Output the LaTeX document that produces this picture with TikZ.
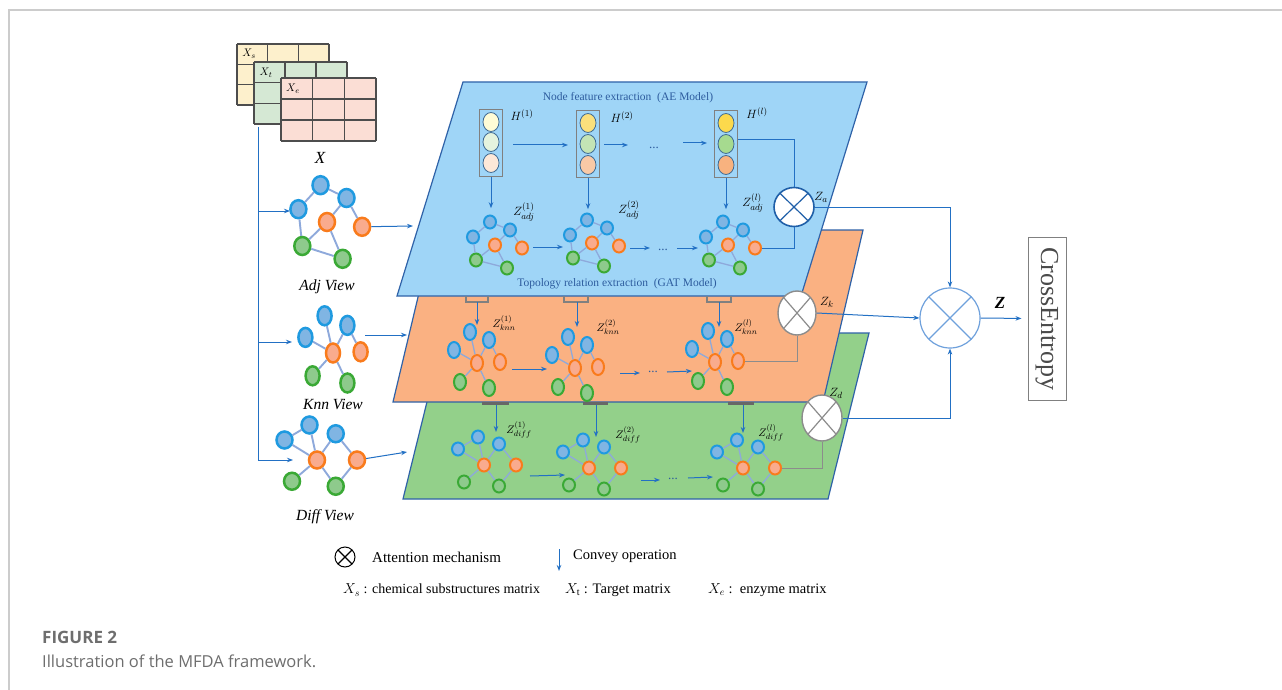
\documentclass[tikz,border=0pt]{standalone}
\usepackage{fontspec}
\setmainfont{Liberation Serif}
\newfontfamily\capfont{Open Sans}
\usetikzlibrary{arrows.meta,shapes.geometric}
\definecolor{framec}{HTML}{CCCCCC}
\definecolor{matline}{HTML}{4D4D4D}
\definecolor{mys}{HTML}{FDF0CC}
\definecolor{myt}{HTML}{D5E8D4}
\definecolor{mye}{HTML}{FBDED5}
\definecolor{arrc}{HTML}{2270C4}
\definecolor{bnd}{HTML}{1F9AE0}
\definecolor{bnf}{HTML}{80B5E3}
\definecolor{ond}{HTML}{F97B1C}
\definecolor{onf}{HTML}{F9AB8D}
\definecolor{gnd}{HTML}{3AA935}
\definecolor{gnf}{HTML}{8ECA8C}
\definecolor{edgec}{HTML}{8EA9DB}
\definecolor{planeb}{HTML}{9FD5F7}
\definecolor{planeo}{HTML}{FAB182}
\definecolor{planeg}{HTML}{93D08A}
\definecolor{planed}{HTML}{2F62A8}
\definecolor{titlec}{HTML}{2D5C9E}
\definecolor{hboxc}{HTML}{808080}
\definecolor{attg}{HTML}{8C8C8C}
\definecolor{zablue}{HTML}{1F5FA8}
\definecolor{bigc}{HTML}{6FA1DC}
\definecolor{cetext}{HTML}{4A4A4A}
\definecolor{capc}{HTML}{6E6E6E}
\definecolor{hy1}{HTML}{FEFCD6}\definecolor{hg1}{HTML}{E4F3DE}\definecolor{hp1}{HTML}{FDE8D8}
\definecolor{hy2}{HTML}{FBE07C}\definecolor{hg2}{HTML}{C4E4B5}\definecolor{hp2}{HTML}{F9C9A6}
\definecolor{hy3}{HTML}{FCD94C}\definecolor{hg3}{HTML}{A6DA8F}\definecolor{hp3}{HTML}{F8B27F}
\definecolor{hcd}{HTML}{3F6A93}

\def\gw{12pt}\def\gh{13pt}\def\glw{2pt}\def\gelw{1.3pt}
\tikzset{
  gsize/.code args={#1/#2/#3/#4}{\def\gw{#1pt}\def\gh{#2pt}\def\glw{#3pt}\def\gelw{#4pt}},
  gnode/.style={ellipse, inner sep=0pt, minimum width=\gw, minimum height=\gh, line width=\glw},
  bn/.style={gnode, draw=bnd, fill=bnf},
  on/.style={gnode, draw=ond, fill=onf},
  gn/.style={gnode, draw=gnd, fill=gnf},
  gedge/.style={draw=edgec, line width=\gelw},
  arr/.style={draw=arrc, line width=1pt, -{Stealth[length=6pt,width=4.5pt]}},
  conn/.style={draw=arrc, line width=1pt},
  gconn/.style={draw=attg, line width=1pt},
  plane/.style={draw=planed, line width=1.2pt},
  hbox/.style={draw=hboxc, line width=1.4pt, minimum width=23pt, minimum height=67pt, inner sep=0pt},
  hc/.style={ellipse, draw=hcd, line width=0.8pt, minimum width=16pt, minimum height=19pt, inner sep=0pt},
  attn/.style={ellipse, draw=#1, fill=white, inner sep=0pt,
     path picture={\draw[#1, line width=1.2pt]
       (path picture bounding box.north west) -- (path picture bounding box.south east)
       (path picture bounding box.north east) -- (path picture bounding box.south west);}},
  lab/.style={font=\fontsize{12.5}{14}\selectfont, inner sep=0pt},
  slab/.style={font=\fontsize{11}{13}\selectfont, inner sep=0pt},
  dots/.style={font=\fontsize{13}{14}\selectfont, inner sep=0pt, text=titlec},
  vlab/.style={font=\itshape\fontsize{15.5}{18}\selectfont, inner sep=0pt},
  leg/.style={font=\fontsize{15}{18}\selectfont, inner sep=0pt, anchor=west},
  pics/adjg/.style={code={
    \node[bn] (-t) at (-5,-23) {};
    \node[bn] (-r) at (15,-15) {};
    \node[bn] (-l) at (-22,-8) {};
    \node[on] (-c) at (0,0) {};
    \node[on] (-o) at (27,3) {};
    \node[gn] (-g) at (-19,15) {};
    \node[gn] (-b) at (12,23) {};
    \draw[gedge] (-l)--(-t) (-t)--(-r) (-r)--(-c) (-r)--(-o) (-l)--(-g) (-c)--(-g) (-c)--(-b) (-g)--(-b);
  }},
  pics/knng/.style={code={
    \node[bn] (-t) at (-7,-31) {};
    \node[bn] (-r) at (12,-23) {};
    \node[bn] (-l) at (-23,-13) {};
    \node[on] (-c) at (0,0) {};
    \node[on] (-o) at (23,-1) {};
    \node[gn] (-g) at (-17,19) {};
    \node[gn] (-b) at (12,25) {};
    \draw[gedge] (-c)--(-t) (-c)--(-r) (-c)--(-l) (-c)--(-g) (-c)--(-b) (-r)--(-o);
  }},
  pics/diffg/.style={code={
    \node[bn] (-t) at (-6,-28) {};
    \node[bn] (-r) at (15,-21) {};
    \node[bn] (-l) at (-26,-16) {};
    \node[on] (-c) at (0,0) {};
    \node[on] (-o) at (32,0) {};
    \node[gn] (-g) at (-20,17) {};
    \node[gn] (-b) at (15,21) {};
    \draw[gedge] (-l)--(-t) (-l)--(-c) (-t)--(-c) (-r)--(-c) (-r)--(-o) (-c)--(-g) (-c)--(-b) (-o)--(-b);
  }}
}
\newcommand\mygrid[5]{%
  \fill[#5] (#1,#2) rectangle (#3,#4);
  \foreach \k in {0,1,2,3}{%
    \draw[matline,line width=1.1pt] ({#1+(#3-#1)*\k/3},#2) -- ({#1+(#3-#1)*\k/3},#4);
    \draw[matline,line width=1.1pt] (#1,{#2+(#4-#2)*\k/3}) -- (#3,{#2+(#4-#2)*\k/3});
  }}

\begin{document}
\begin{tikzpicture}[x=1pt,y=-1pt]
\useasboundingbox (0,0) rectangle (1282,690);
\fill[white] (0,0) rectangle (1282,690);
\draw[framec, line width=2pt] (9,690) -- (9,10) -- (1282,10);

% ---------- matrices ----------
\mygrid{237}{44}{329}{105}{mys}
\mygrid{254}{62}{347}{124}{myt}
\mygrid{281}{78}{376}{141}{mye}
\node[slab] (mxs) at (249,54) {$X_s$};
\node[slab] (mxt) at (266,73) {$X_t$};
\node[slab] (mxe) at (293,89) {$X_e$};
\node[vlab, font=\itshape\fontsize{17}{19}\selectfont] (mX) at (320,158) {X};

% ---------- left views ----------
\pic[gsize=16/18/2.5/1.9, xscale=1.3, yscale=1.6] (A) at (327,222) {adjg};
\pic[gsize=14/19/2.5/1.9, scale=1.2] (K) at (333,353) {knng};
\pic[gsize=16/17/2.5/1.9, scale=1.25] (D) at (317,460) {diffg};
\node[vlab] (lA) at (327,287) {Adj View};
\node[vlab] (lK) at (333,404) {Knn View};
\node[vlab] (lD) at (325,517) {Diff View};

\coordinate (xa) at (258,127);
\coordinate (v1) at (258,211);
\coordinate (v2) at (258,342);
\coordinate (v3) at (258,460);
\coordinate (e1) at (290,211);
\coordinate (e2) at (292,342);
\coordinate (e3) at (293,460);
\draw[conn] (xa) -- (v3);
\draw[arr] (v1) -- (e1);
\draw[arr] (v2) -- (e2);
\draw[arr] (v3) -- (e3);

% ---------- green plane ----------
\filldraw[plane, fill=planeg] (444,333) -- (869,333) -- (828,499) -- (403,499) -- cycle;
\pic[gsize=12/13/2/1.3] (d1) at (484,465) {diffg};
\pic[gsize=12/13/2/1.3] (d2) at (589,468) {diffg};
\pic[gsize=12/13/2/1.3] (d3) at (743,468) {diffg};
\coordinate (ga1) at (530,476); \coordinate (ga2) at (565,475);
\coordinate (ga3) at (641,480); \coordinate (ga4) at (660,480);
\coordinate (ga5) at (688,478); \coordinate (ga6) at (713,477);
\draw[arr] (ga1) -- (ga2);
\draw[arr] (ga3) -- (ga4);
\node[dots] (dG) at (673,479) {...};
\draw[arr] (ga5) -- (ga6);
\node[slab] (zd1) at (519,430) {$Z^{(1)}_{diff}$};
\node[slab] (zd2) at (628,435) {$Z^{(2)}_{diff}$};
\node[slab] (zd3) at (771,433) {$Z^{(l)}_{diff}$};

% ---------- orange plane ----------
\filldraw[plane, fill=planeo] (434,230) -- (863,230) -- (823,402) -- (393,402) -- cycle;
\pic[gsize=12/16/2/1.3] (k1) at (477,363) {knng};
\pic[gsize=12/16/2/1.3] (k2) at (575,368) {knng};
\pic[gsize=12/16/2/1.3] (k3) at (715,362) {knng};
\coordinate (ka1) at (512,369); \coordinate (ka2) at (547,369);
\coordinate (ka3) at (620,373); \coordinate (ka4) at (640,373);
\coordinate (ka5) at (667,372); \coordinate (ka6) at (692,371);
\draw[arr] (ka1) -- (ka2);
\draw[arr] (ka3) -- (ka4);
\node[dots] (dK) at (653,372) {...};
\draw[arr] (ka5) -- (ka6);
\node[slab] (zk1) at (504,323) {$Z^{(1)}_{knn}$};
\node[slab] (zk2) at (608,327) {$Z^{(2)}_{knn}$};
\node[slab] (zk3) at (746,327) {$Z^{(l)}_{knn}$};
% brackets under orange plane
\fill[hboxc!80!black] (482,402) rectangle (509,405);
\fill[hboxc!80!black] (583,402) rectangle (608,405);
\fill[hboxc!80!black] (728,402) rectangle (754,405);
\coordinate (ob1) at (496,405); \coordinate (ob2) at (596,405); \coordinate (ob3) at (743,405);
\draw[arr] (ob1) -- ++(0,27);
\draw[arr] (ob2) -- ++(0,32);
\draw[arr] (ob3) -- ++(0,28);

% ---------- blue plane ----------
\filldraw[plane, fill=planeb] (463,82) -- (867,82) -- (801,296) -- (397,296) -- cycle;
\node[font=\fontsize{11.5}{13}\selectfont, text=titlec] (t1) at (628,98) {Node feature extraction\ \ (AE Model)};
\node[font=\fontsize{11.5}{13}\selectfont, text=titlec] (t2) at (617,284) {Topology relation extraction\ \ (GAT Model)};
\node[hbox] (h1) at (491,143) {};
\node[hbox] (h2) at (588,144) {};
\node[hbox] (h3) at (726,144) {};
\node[hc, fill=hy1] (h1a) at (491,122) {};
\node[hc, fill=hg1] (h1b) at (491,142) {};
\node[hc, fill=hp1] (h1c) at (491,163) {};
\node[hc, fill=hy2] (h2a) at (588,123) {};
\node[hc, fill=hg2] (h2b) at (588,144) {};
\node[hc, fill=hp2] (h2c) at (588,165) {};
\node[hc, fill=hy3] (h3a) at (726,123) {};
\node[hc, fill=hg3] (h3b) at (726,144) {};
\node[hc, fill=hp3] (h3c) at (726,165) {};
\node[lab] (lh1) at (522,115) {$H^{(1)}$};
\node[lab] (lh2) at (622,117) {$H^{(2)}$};
\node[lab] (lh3) at (757,113) {$H^{(l)}$};
\coordinate (ha1) at (513,145); \coordinate (ha2) at (568,145);
\coordinate (ha3) at (604,145); \coordinate (ha4) at (628,145);
\coordinate (ha5) at (683,143); \coordinate (ha6) at (707,143);
\draw[arr] (ha1) -- (ha2);
\draw[arr] (ha3) -- (ha4);
\node[dots] (dH) at (654,148) {...};
\draw[arr] (ha5) -- (ha6);
\draw[arr] (h1.south) -- ++(0,31);
\draw[arr] (h2.south) -- ++(0,31);
\draw[arr] (h3.south) -- ++(0,31);
\pic[gsize=12/13/2/1.3] (a1) at (495,245) {adjg};
\pic[gsize=12/13/2/1.3] (a2) at (592,243) {adjg};
\pic[gsize=12/13/2/1.3] (a3) at (728,245) {adjg};
\coordinate (ba1) at (533,247); \coordinate (ba2) at (563,247);
\coordinate (ba3) at (630,248); \coordinate (ba4) at (650,248);
\coordinate (ba5) at (677,248); \coordinate (ba6) at (698,248);
\draw[arr] (ba1) -- (ba2);
\draw[arr] (ba3) -- (ba4);
\node[dots] (dB) at (663,250) {...};
\draw[arr] (ba5) -- (ba6);
\node[lab] (za1) at (524,212) {$Z^{(1)}_{adj}$};
\node[lab] (za2) at (629,210) {$Z^{(2)}_{adj}$};
\node[lab] (za3) at (753,203) {$Z^{(l)}_{adj}$};
% brackets under blue plane
\draw[hboxc, line width=1.2pt] (466,296) -- (466,302) -- (488,302) -- (488,296);
\draw[hboxc, line width=1.2pt] (564,296) -- (564,302) -- (588,302) -- (588,296);
\draw[hboxc, line width=1.2pt] (707,296) -- (707,302) -- (731,302) -- (731,296);
\coordinate (bb1) at (477,302); \coordinate (bb2) at (577,302); \coordinate (bb3) at (719,302);
\draw[arr] (bb1) -- ++(0,23);
\draw[arr] (bb2) -- ++(0,25);
\draw[arr] (bb3) -- ++(0,25);

% ---------- view to plane arrows ----------
\coordinate (pa) at (413,226);
\coordinate (pk0) at (365,335); \coordinate (pk) at (407,335);
\coordinate (pd) at (407,452);
\draw[arr] (A-o) -- (pa);
\draw[arr] (pk0) -- (pk);
\draw[arr] (D-o) -- (pd);

% ---------- attention nodes ----------
\node[attn=zablue, line width=1.6pt, minimum width=40pt, minimum height=39pt] (za) at (794,207) {};
\node[attn=attg, line width=1.4pt, minimum width=38pt, minimum height=44pt] (zk) at (797,313) {};
\node[attn=attg, line width=1.4pt, minimum width=40pt, minimum height=46pt] (zd) at (822,418) {};
\node[lab] (lza) at (821,197) {$Z_a$};
\node[lab] (lzk) at (827,302) {$Z_k$};
\node[lab] (lzd) at (836,393) {$Z_d$};
\draw[conn] ([yshift=4pt]h3.east) -| (za.north);
\draw[conn] (a3-o.east) -| (za.south);
\draw[gconn] (k3-o.east) -| (zk.south);
\draw[gconn] (d3-o.east) -| (zd.south);

\node[attn=bigc, circle, line width=1.2pt, minimum size=60pt] (big) at (950,318) {};
\draw[arr] (za.east) -| (big.north);
\draw[arr] (zk.east) -- (big.west);
\draw[arr] (zd.east) -| (big.south);
\node[draw=hboxc, line width=1pt, minimum width=38pt, minimum height=163pt, inner sep=0pt] (ce) at (1047,318.5) {};
\node[rotate=-90, font=\fontsize{26}{30}\selectfont, text=cetext, inner sep=0pt] (cet) at (ce.center) {CrossEntropy};
\draw[arr, shorten >=6pt] (big.east) -- (ce.west);
\node[font=\bfseries\itshape\fontsize{17}{20}\selectfont, inner sep=0pt] (lz) at (1000,303) {Z};

% ---------- legend ----------
\node[attn=black, circle, line width=1pt, minimum size=20pt] (lg) at (345,557) {};
\node[leg] (lgt) at (372,557) {Attention mechanism};
\coordinate (cv1) at (559,549); \coordinate (cv2) at (559,571);
\draw[arr] (cv1) -- (cv2);
\node[leg, font=\fontsize{14.5}{18}\selectfont] (cvt) at (573,556) {Convey operation};
\node[leg, font=\fontsize{14}{18}\selectfont] (l1) at (343,590) {$X_s$ : chemical substructures matrix};
\node[leg, font=\fontsize{14.5}{18}\selectfont] (l2) at (565,590) {$X_{\mathrm{t}}$ : Target matrix};
\node[leg, font=\fontsize{14.5}{18}\selectfont] (l3) at (708,590) {$X_e$ :\ \ enzyme matrix};

% ---------- caption ----------
\node[anchor=base west, inner sep=0pt, font=\capfont\bfseries\fontsize{17}{20}\selectfont, text=capc] (cap1) at (42,643) {FIGURE 2};
\node[anchor=base west, inner sep=0pt, font=\capfont\fontsize{16.5}{19}\selectfont, text=capc] (cap2) at (42,667) {Illustration of the MFDA framework.};
\end{tikzpicture}
\end{document}
